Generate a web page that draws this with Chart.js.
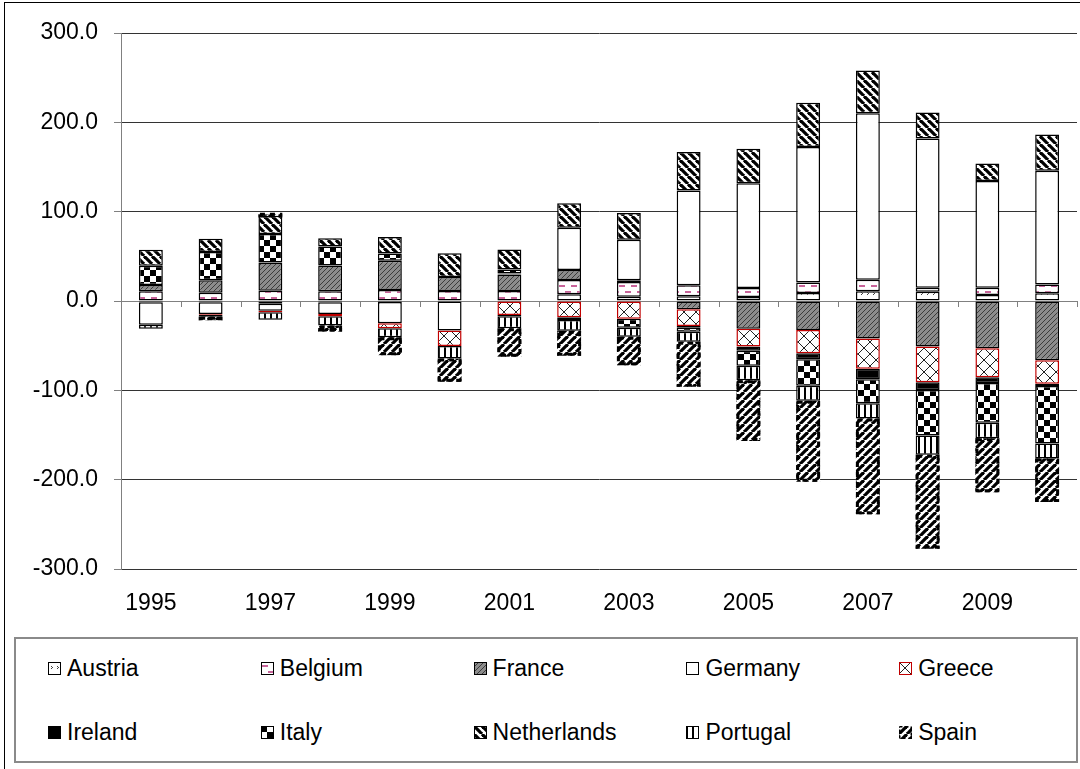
<!DOCTYPE html>
<html><head><meta charset="utf-8">
<script src="https://cdn.jsdelivr.net/npm/chart.js@4.4.1/dist/chart.umd.min.js"></script>
<style>
html,body{margin:0;padding:0;background:#fff;}
body{width:1080px;height:769px;position:relative;overflow:hidden;font-family:"Liberation Sans",Arial,sans-serif;}
#frame{position:absolute;left:4px;top:2px;width:1090px;height:790px;border:1px solid #000;}
#wrap{position:absolute;left:0;top:0;width:1080px;height:630px;}
#legend{position:absolute;left:14px;top:637px;width:1064px;height:126px;border:2px solid #8a8a8a;box-sizing:border-box;}
.item{position:absolute;height:28px;display:flex;align-items:center;font-size:23px;color:#000;white-space:nowrap;}
.item canvas{width:13px;height:13px;margin-right:6px;}
</style></head>
<body>
<div id="frame"></div>
<div id="wrap"><canvas id="c"></canvas></div>
<div id="legend"></div>
<script>
const years = ['1995','1996','1997','1998','1999','2000','2001','2002','2003','2004','2005','2006','2007','2008','2009','2010'];
const countries = ['Austria','Belgium','France','Germany','Greece','Ireland','Italy','Netherlands','Portugal','Spain'];
const austria     = [-1.5, -1.5, -3, -1.5, -1, 0, 0, 7.5, 4.8, 5.2, 4.5, 9, 10.8, 10.4, 6.7, 8.6];
const belgium     = [10.8, 9.3, 11.5, 11, 12.3, 11.2, 11.2, 16, 16.4, 12.3, 10, 11.6, 13, 4.5, 8.2, 10];
const france      = [7, 13.8, 31.7, 28.7, 32.8, 15.7, 18.6, 11.2, 2, -9.3, -31, -32.4, -42.1, -51, -53, -66.4];
const germany     = [-25, -13, -8, -13, -24, -33, 1, 47.4, 45.5, 106.3, 117.4, 151.8, 186.4, 167, 119.3, 127.1];
const greece      = [0, -1, -1.5, -2.6, -5.6, -17.5, -15.6, -18.3, -20, -18.6, -20, -26.1, -33.6, -40, -32.4, -26.1];
const ireland     = [0, 0, 0, 0, 0, 0, -1.5, 0, 0, -2, -4.8, -6.7, -11.9, -8.6, -6.3, -2.6];
const italy       = [21.6, 31.7, 31.7, 21.3, 8, 0, 4.5, -3, -10, -4.5, -16.8, -29.8, -26.8, -51, -44.7, -64.5];
const netherlands = [17.9, 14.9, 20.5, 9.3, 18.6, 26.5, 22.4, 27.2, 29.8, 42.9, 38.4, 49.6, 47.7, 29.1, 19.8, 40.6];
const portugal    = [-4.5, -2, -8.5, -10.4, -10, -14, -13.5, -12, -10, -11.2, -16, -16.8, -17.2, -21.6, -17.2, -16.8];
const spain       = [0, -4, 1.5, -6.7, -20, -26, -31.7, -28, -32, -50.3, -68, -90.6, -107, -105, -60.4, -48.5];
const yTicks = [-300, -200, -100, 0, 100, 200, 300];

const seriesValues = [austria, belgium, france, germany, greece, ireland, italy, netherlands, portugal, spain];
const FONT = '"Liberation Sans", Arial, sans-serif';

function tile(w, h, bg, draw){
  const c = document.createElement('canvas'); c.width = w; c.height = h;
  const g = c.getContext('2d'); g.fillStyle = bg; g.fillRect(0,0,w,h); draw(g,w,h); return c;
}
function diag(g, s, dir, lw, col){
  g.strokeStyle = col; g.lineWidth = lw;
  for(let k=-1;k<=1;k++){
    g.beginPath();
    if(dir==='\\'){ g.moveTo(k*s, 0); g.lineTo(k*s+s, s); }
    else { g.moveTo(k*s, s); g.lineTo(k*s+s, 0); }
    g.stroke();
  }
}
const tiles = {
  Austria: tile(12,12,'#fff',g=>{g.fillStyle='#444';g.fillRect(3,4,1,1);g.fillRect(4,5,1,1);g.fillRect(3,6,1,1);g.fillRect(9,4,1,1);g.fillRect(10,5,1,1);g.fillRect(9,6,1,1);}),
  Belgium: tile(12,12,'#fff',g=>{g.fillStyle='#c8649a';g.fillRect(1,3,6,2);g.fillRect(7,9,5,2);g.fillRect(0,9,1,2);}),
  France: tile(5,5,'#8c8c8c',g=>diag(g,5,'/',1,'#3c3c3c')),
  Germany: tile(4,4,'#fff',g=>{}),
  Greece: tile(12,12,'#fff',g=>{diag(g,12,'/',1,'#222');diag(g,12,'\\',1,'#222');}),
  Ireland: tile(4,4,'#000',g=>{}),
  Italy: tile(12,12,'#fff',g=>{g.fillStyle='#000';g.fillRect(0,0,6,6);g.fillRect(6,6,6,6);}),
  Netherlands: tile(8,8,'#fff',g=>diag(g,8,'\\',3.2,'#000')),
  Portugal: tile(6,6,'#fff',g=>{g.fillStyle='#000';g.fillRect(0,0,2,6);}),
  Spain: tile(8,8,'#fff',g=>diag(g,8,'/',3.2,'#000'))
};

const ctx = document.getElementById('c').getContext('2d');
const datasets = countries.map((name,i)=>({
  label: name,
  data: seriesValues[i],
  backgroundColor: ctx.createPattern(tiles[name],'repeat'),
  borderColor: name==='Greece' ? '#c00000' : '#000',
  borderWidth: name==='Spain' ? 0 : 1.5,
  borderSkipped: false,
  barPercentage: 0.4,
  categoryPercentage: 1.0
}));

const spainDash = {
  id:'spainDash',
  afterDatasetsDraw(chart){
    const idx = countries.indexOf('Spain');
    const meta = chart.getDatasetMeta(idx);
    const c = chart.ctx; c.save();
    c.strokeStyle='#000'; c.lineWidth=3; c.setLineDash([5,5]);
    meta.data.forEach(el=>{
      const p = el.getProps(['x','y','base','width'], true);
      const h = Math.abs(p.y-p.base); if(h<0.5) return;
      const top = Math.min(p.y,p.base);
      c.strokeRect(p.x-p.width/2+1.5, top+1.5, p.width-3, h-3);
    });
    c.restore();
  }
};
const zeroTicks = {
  id:'zeroTicks',
  afterDraw(chart){
    const xs = chart.scales.x, ys = chart.scales.y, c = chart.ctx;
    const y0 = ys.getPixelForValue(0);
    const n = xs.getLabels().length;
    const w = (xs.right - xs.left)/n;
    c.save(); c.strokeStyle='#808080'; c.lineWidth=1;
    for(let i=0;i<=n;i++){
      const x = Math.round(xs.left + i*w)+0.5;
      c.beginPath(); c.moveTo(x,y0); c.lineTo(x,y0+6); c.stroke();
    }
    c.restore();
  }
};

new Chart(ctx,{
  type:'bar',
  data:{labels:years, datasets},
  plugins:[spainDash, zeroTicks],
  options:{
    responsive:true, maintainAspectRatio:false, animation:false,
    layout:{padding:{top:33,right:3,left:0,bottom:0}},
    plugins:{legend:{display:false}, tooltip:{enabled:false}},
    scales:{
      x:{
        stacked:true,
        grid:{display:false, drawTicks:false},
        border:{display:false},
        ticks:{autoSkip:false, maxRotation:0, padding:21, color:'#000',
          font:{family:FONT, size:23},
          callback:(v,i)=> i%2===0 ? years[i] : ''},
        afterFit(s){ s.height = 61; }
      },
      y:{
        stacked:true, min:-300, max:300,
        afterBuildTicks(s){ s.ticks = yTicks.map(v=>({value:v})); },
        grid:{color:c=> c.tick && c.tick.value===0 ? '#808080' : '#333', tickColor:'#808080', tickLength:7, lineWidth:1},
        border:{color:'#808080', width:1},
        ticks:{padding:16, color:'#000', font:{family:FONT, size:23},
          callback:v=> Number(v).toFixed(1)},
        afterFit(s){ s.width = 121; }
      }
    }
  }
});

// legend
const leg = document.getElementById('legend');
countries.forEach((name,i)=>{
  const col = i%5, row = Math.floor(i/5);
  const d = document.createElement('div'); d.className='item';
  d.style.left = (32 + col*212.8) + 'px';
  d.style.top = (15 + row*64) + 'px';
  const sw = document.createElement('canvas'); sw.width=13; sw.height=13;
  const g = sw.getContext('2d');
  g.fillStyle = g.createPattern(tiles[name],'repeat'); g.fillRect(0,0,13,13);
  g.strokeStyle = name==='Greece' ? '#c00000' : '#000'; g.lineWidth = 1;
  if(name==='Spain'){ g.setLineDash([3,3]); g.lineWidth=2; }
  g.strokeRect(0.5,0.5,12,12);
  d.appendChild(sw);
  const t = document.createElement('span'); t.textContent = name; d.appendChild(t);
  leg.appendChild(d);
});
</script>
</body></html>
